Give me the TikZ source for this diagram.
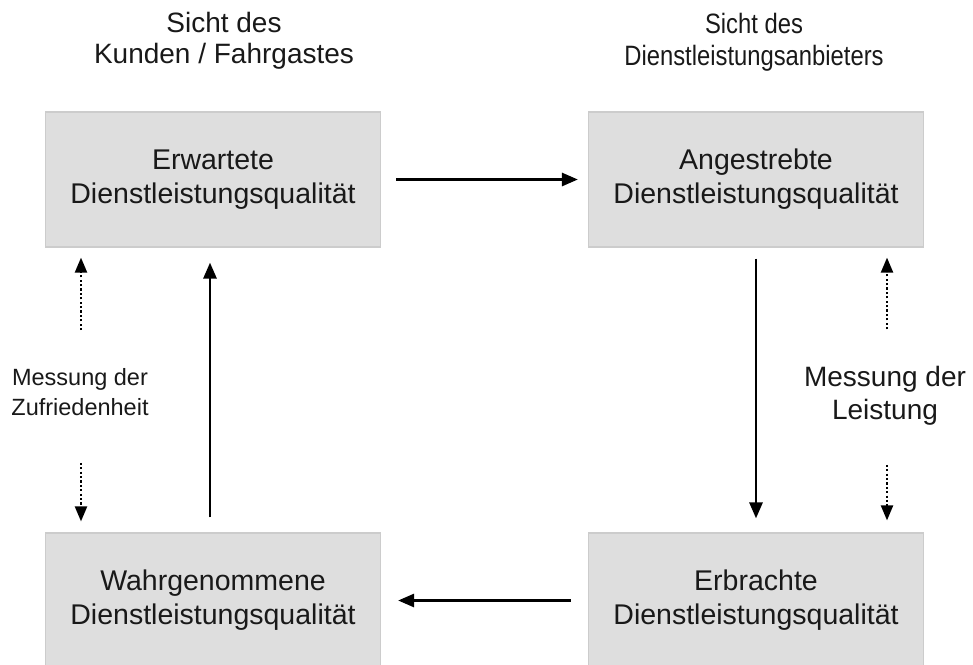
\documentclass[tikz,border=0pt]{standalone}
\usepackage{fontspec}
\setmainfont{Liberation Sans}
\newfontfamily\narrowfont[FakeStretch=0.85]{Liberation Sans}
\usetikzlibrary{arrows.meta}
\definecolor{boxfill}{HTML}{DEDEDE}
\definecolor{boxline}{HTML}{CCCCCC}

\begin{document}
\begin{tikzpicture}[x=1pt,y=-1pt,
        every node/.style={text=black!90},
        quality/.style={draw=boxline,line width=1.2pt,fill=boxfill,minimum width=335pt,minimum height=135pt,
            align=center,font=\fontsize{28.5}{34}\selectfont},
        measuretext/.style={align=center,inner sep=0pt},
        plain arrow/.style={line width=2.8pt,-{Triangle[length=16pt,width=13pt]}},
        measure arrow/.style={line width=2.2pt,dash pattern=on 2.2pt off 2.2pt,-{Triangle[length=15pt,width=12pt]}}]

    \useasboundingbox (0,0) rectangle (973,664);

    % the four quality boxes
    \node[quality] (expected)  at (213,179.5) {Erwartete\\Dienstleistungsqualität};
    \node[quality] (targeted)  at (756,179.5) {Angestrebte\\Dienstleistungsqualität};
    \node[quality] (perceived) at (213,600.5) {Wahrgenommene\\Dienstleistungsqualität};
    \node[quality] (delivered) at (756,600.5) {Erbrachte\\Dienstleistungsqualität};

    % headings
    \node[align=center,inner sep=0pt,font=\fontsize{28}{31}\selectfont] (customer) at (224,41)
        {Sicht des\\Kunden / Fahrgastes};
    \node[align=center,inner sep=0pt,font=\narrowfont\fontsize{28}{32}\selectfont] (provider) at (754,42)
        {Sicht des\\Dienstleistungsanbieters};

    \node[measuretext,font=\fontsize{23.5}{30}\selectfont] (satisfaction) at (80,392) {Messung der\\Zufriedenheit};
    \node[measuretext,font=\fontsize{28}{33}\selectfont] (performance) at (885,396) {Messung der\\Leistung};

    \draw[plain arrow,shorten <=15pt,shorten >=10pt] (expected) -- (targeted);
    \draw[plain arrow,shorten <=11pt,shorten >=14pt] (targeted) -- (delivered);
    \draw[plain arrow,shorten <=17pt,shorten >=17pt] (delivered) -- (perceived);
    \draw[plain arrow,shorten <=15pt,shorten >=15pt] ([xshift=-3pt]perceived.north) -- ([xshift=-3pt]expected.south);

    % measurement arrows
    \draw[measure arrow,shorten <=38pt,shorten >=10pt] ([xshift=1pt]satisfaction.north) -- ([xshift=1pt]satisfaction.north |- expected.south);
    \draw[measure arrow,shorten <=47pt,shorten >=11pt] ([xshift=1pt]satisfaction.south) -- ([xshift=1pt]satisfaction.south |- perceived.north);
    \draw[measure arrow,shorten <=37pt,shorten >=10pt] ([xshift=2pt]performance.north) -- ([xshift=2pt]performance.north |- targeted.south);
    \draw[measure arrow,shorten <=39pt,shorten >=12pt] ([xshift=2pt]performance.south) -- ([xshift=2pt]performance.south |- delivered.north);
\end{tikzpicture}
\end{document}
